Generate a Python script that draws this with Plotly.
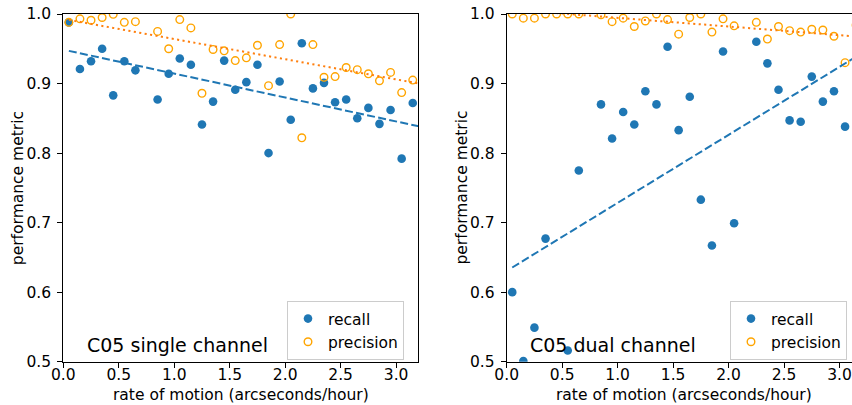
import plotly.graph_objects as go

# ---------------- data ----------------
rate = [0.05, 0.15, 0.25, 0.35, 0.45, 0.55, 0.65, 0.75, 0.85, 0.95, 1.05, 1.15,
        1.25, 1.35, 1.45, 1.55, 1.65, 1.75, 1.85, 1.95, 2.05, 2.15, 2.25, 2.35,
        2.45, 2.55, 2.65, 2.75, 2.85, 2.95, 3.05, 3.15]

single_recall = [0.988, 0.921, 0.932, 0.950, 0.883, 0.932, 0.919, None, 0.877, 0.914,
                 0.936, 0.927, 0.841, 0.874, 0.933, 0.891, 0.902, 0.927, 0.800, 0.903,
                 0.848, 0.958, 0.893, 0.901, 0.873, 0.877, 0.850, 0.865, 0.842, 0.862,
                 0.792, 0.872]
single_precision = [0.988, 0.993, 0.991, 0.995, 0.9995, 0.988, 0.989, None, 0.975, 0.950,
                    0.992, 0.980, 0.886, 0.949, 0.947, 0.933, 0.937, 0.955, 0.897, 0.956,
                    1.000, 0.822, 0.956, 0.909, 0.910, 0.923, 0.920, 0.914, 0.904, 0.916,
                    0.887, 0.905]

dual_recall = [0.600, 0.501, 0.549, 0.677, None, 0.516, 0.775, None, 0.870, 0.821,
               0.859, 0.841, 0.889, 0.870, 0.953, 0.833, 0.881, 0.733, 0.667, 0.946,
               0.699, None, 0.960, 0.929, 0.891, 0.847, 0.845, 0.910, 0.874, 0.889,
               0.838, None]
dual_precision = [1.000, 0.994, 0.994, 1.000, 1.000, 1.000, 1.000, None, 0.999, 0.989,
                  0.994, 0.982, 0.990, 1.000, 0.992, 0.971, 0.995, 1.000, 0.974, 0.993,
                  0.983, None, 0.988, 0.964, 0.982, 0.976, 0.974, 0.978, 0.977, 0.968,
                  0.930, 0.984]

# linear trend fits: [intercept, slope]
single_recall_fit = [0.9487, -0.0344]
single_precision_fit = [0.9930, -0.0290]
dual_recall_fit = [0.6306, 0.0978]
dual_precision_fit = [1.0070, -0.0125]
fit_x = [0.05, 3.25]

tick_x = [0.0, 0.5, 1.0, 1.5, 2.0, 2.5, 3.0]
tick_y = [0.5, 0.6, 0.7, 0.8, 0.9, 1.0]

panel_titles = ["C05 single channel", "C05 dual channel"]
x_title = "rate of motion (arcseconds/hour)"
y_title = "performance metric"

# ---------------- styling ----------------
W, H = 852, 405
FONT = "DejaVu Sans"
FS = 15.5
BLUE = "#1f77b4"
ORANGE_PT = "#ffa500"
ORANGE_LN = "#ff7f0e"

# plot areas in pixels
L1, R1 = 63.3, 418.3
L2 = 506.7
PX_PER_UNIT = (R1 - L1) / 3.2
TOP, BOT = 14.0, 361.7

def px(v):
    return v / W

def py(v):
    return 1 - v / H

def line_y(fit):
    return [fit[0] + fit[1] * xv for xv in fit_x]

fig = go.Figure()

panels = [
    ("x", "y", "legend", single_recall, single_precision, single_recall_fit, single_precision_fit),
    ("x2", "y2", "legend2", dual_recall, dual_precision, dual_recall_fit, dual_precision_fit),
]

for xa, ya, lg, rec, prec, rfit, pfit in panels:
    fig.add_trace(go.Scatter(
        x=rate, y=rec, mode="markers", name="recall", xaxis=xa, yaxis=ya, legend=lg,
        marker=dict(color=BLUE, size=8.6, line=dict(width=0))))
    fig.add_trace(go.Scatter(
        x=rate, y=prec, mode="markers", name="precision", xaxis=xa, yaxis=ya, legend=lg,
        marker=dict(symbol="circle-open", color=ORANGE_PT, size=7.6, line=dict(width=1.4, color=ORANGE_PT))))
    fig.add_trace(go.Scatter(
        x=fit_x, y=line_y(rfit), mode="lines", showlegend=False, xaxis=xa, yaxis=ya,
        line=dict(color=BLUE, width=2, dash="8px,3.3px"), hoverinfo="skip"))
    fig.add_trace(go.Scatter(
        x=fit_x, y=line_y(pfit), mode="lines", showlegend=False, xaxis=xa, yaxis=ya,
        line=dict(color=ORANGE_LN, width=2, dash="2.1px,3.4px"), hoverinfo="skip"))

axis_common = dict(
    showgrid=False, zeroline=False, showline=True, linecolor="#000000", linewidth=1.1,
    ticks="outside", ticklen=5, tickwidth=1.1, tickcolor="#000000",
    tickfont=dict(family=FONT, size=FS, color="#000000"), automargin=False,
)

x2_max = (W - L2) / PX_PER_UNIT

fig.update_layout(
    width=W, height=H,
    margin=dict(l=0, r=0, t=0, b=0, pad=0),
    paper_bgcolor="white", plot_bgcolor="white",
    font=dict(family=FONT, size=FS, color="#000000"),
    xaxis=dict(axis_common, domain=[px(L1), px(R1)], range=[0, 3.2], tickvals=tick_x,
               tickformat=".1f", mirror=True, anchor="y", ticklabelstandoff=-6),
    yaxis=dict(axis_common, domain=[py(BOT), py(TOP)], range=[0.5, 1.0], tickvals=tick_y,
               tickformat=".1f", mirror=True, anchor="x", ticklabelstandoff=3),
    xaxis2=dict(axis_common, domain=[px(L2), 1.0], range=[0, x2_max], tickvals=tick_x,
                tickformat=".1f", mirror=True, anchor="y2", ticklabelstandoff=-6),
    yaxis2=dict(axis_common, domain=[py(BOT), py(TOP)], range=[0.5, 1.0], tickvals=tick_y,
                tickformat=".1f", mirror=False, anchor="x2", ticklabelstandoff=3),
    legend=dict(x=px(287), y=py(301), xanchor="left", yanchor="top",
                bgcolor="rgba(255,255,255,0.8)", bordercolor="#cccccc", borderwidth=1,
                font=dict(family=FONT, size=FS, color="#000000"), itemwidth=30,
                tracegroupgap=0),
    legend2=dict(x=px(730), y=py(301), xanchor="left", yanchor="top",
                 bgcolor="rgba(255,255,255,0.8)", bordercolor="#cccccc", borderwidth=1,
                 font=dict(family=FONT, size=FS, color="#000000"), itemwidth=30,
                 tracegroupgap=0),
    showlegend=True,
)

annotations = []
for left, title in [(L1, panel_titles[0]), (L2, panel_titles[1])]:
    annotations.append(dict(
        text=title, xref="paper", yref="paper", x=px(left + 21.7), y=py(344.5),
        xanchor="left", yanchor="middle", showarrow=False,
        font=dict(family=FONT, size=19, color="#000000")))
    annotations.append(dict(
        text=y_title, xref="paper", yref="paper", x=px(left - 45), y=py((TOP + BOT) / 2),
        xanchor="center", yanchor="middle", textangle=-90, showarrow=False,
        font=dict(family=FONT, size=FS, color="#000000")))
    annotations.append(dict(
        text=x_title, xref="paper", yref="paper", x=px(left + 177.5), y=py(395),
        xanchor="center", yanchor="middle", showarrow=False,
        font=dict(family=FONT, size=FS, color="#000000")))
fig.update_layout(annotations=annotations)

fig.write_html("out.html")
